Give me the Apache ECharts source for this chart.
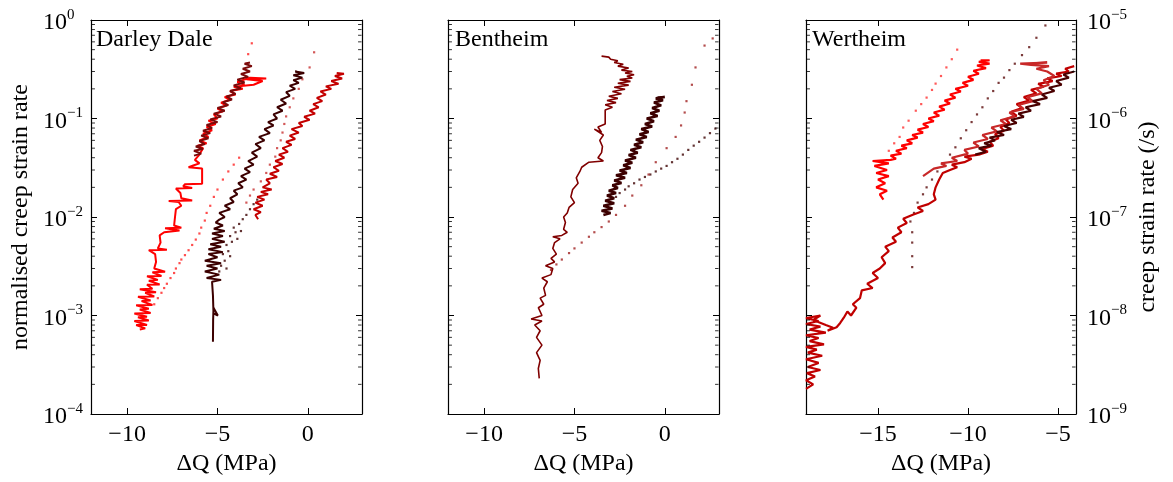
<!DOCTYPE html>
<html><head><meta charset="utf-8">
<script src="https://cdn.jsdelivr.net/npm/echarts@6/dist/echarts.min.js"></script>
<style>html,body{margin:0;padding:0;background:#fff}#c{width:1173px;height:482px}</style>
</head><body><div id="c"></div>
<script>
// ---------- DATA ----------
const panelTitles = ['Darley Dale', 'Bentheim', 'Wertheim'];
const xRanges = [[-12, 3], [-12, 3], [-19, -4]];
const xTickValues = [[-10, -5, 0], [-10, -5, 0], [-15, -10, -5]];
const yLeftRange = [1e-4, 1];
const yRightRange3 = [1e-9, 1e-5];
const xName = 'ΔQ (MPa)';
const yLeftName = 'normalised creep strain rate';
const yRightName = 'creep strain rate (/s)';

// Darley Dale
const ddRed = [[-9.3,7.2e-4],[-9.0,7.4e-4],[-9.5,8.0e-4],[-8.9,8.0e-4],[-9.6,8.8e-4],[-8.8,8.9e-4],[-9.4,9.6e-4],[-8.9,9.7e-4],[-9.6,1.05e-3],[-8.7,1.06e-3],[-9.3,1.15e-3],[-8.8,1.17e-3],[-9.5,1.27e-3],[-8.6,1.28e-3],[-9.2,1.4e-3],[-8.7,1.42e-3],[-9.4,1.55e-3],[-8.5,1.56e-3],[-9.0,1.7e-3],[-8.4,1.72e-3],[-9.3,1.85e-3],[-8.6,1.87e-3],[-8.9,2.05e-3],[-8.2,2.07e-3],[-8.8,2.25e-3],[-8.3,2.3e-3],[-8.9,2.5e-3],[-8.1,2.52e-3],[-8.6,2.75e-3],[-7.9,2.78e-3],[-8.5,3.0e-3],[-8.4,3.5e-3],[-8.45,4.2e-3],[-8.8,4.6e-3],[-7.8,4.65e-3],[-8.3,4.8e-3],[-8.15,5.5e-3],[-8.2,6.5e-3],[-7.95,7.0e-3],[-7.1,7.3e-3],[-7.9,7.7e-3],[-7.0,7.8e-3],[-7.4,8.2e-3],[-7.35,1.0e-2],[-7.3,1.2e-2],[-7.0,1.3e-2],[-7.15,1.42e-2],[-7.7,1.45e-2],[-6.4,1.47e-2],[-7.0,1.55e-2],[-7.05,1.75e-2],[-7.3,1.95e-2],[-6.4,1.97e-2],[-6.9,2.05e-2],[-6.8,2.15e-2],[-5.85,2.17e-2],[-5.85,2.6e-2],[-5.85,3.1e-2],[-6.6,3.2e-2],[-6.3,3.35e-2],[-6.0,3.5e-2],[-6.25,3.8e-2],[-6.0,4.3e-2],[-5.8,5.0e-2],[-6.1,5.3e-2],[-5.6,5.6e-2],[-6.0,6.0e-2],[-5.5,6.5e-2],[-5.8,7.0e-2],[-5.3,7.6e-2],[-5.6,8.2e-2],[-5.1,8.8e-2],[-5.5,9.5e-2],[-5.0,0.1],[-5.2,0.11],[-4.7,0.118],[-5.0,0.126],[-4.5,0.135],[-4.8,0.145],[-4.3,0.155],[-4.6,0.165],[-4.0,0.175],[-4.3,0.19],[-3.6,0.2],[-4.1,0.21],[-3.0,0.22],[-2.5,0.24],[-3.4,0.25],[-2.3,0.255],[-3.2,0.26],[-3.9,0.235],[-3.5,0.22]];
const ddMaroon = [[-6.3,4.2e-2],[-5.9,4.4e-2],[-6.3,4.7e-2],[-5.8,4.9e-2],[-6.2,5.2e-2],[-5.7,5.5e-2],[-6.0,5.9e-2],[-5.5,6.3e-2],[-5.9,6.7e-2],[-5.4,7.1e-2],[-5.8,7.5e-2],[-5.3,8.0e-2],[-5.6,8.6e-2],[-5.0,9.2e-2],[-5.4,9.8e-2],[-4.8,0.105],[-5.2,0.112],[-4.6,0.12],[-5.0,0.128],[-4.4,0.137],[-4.7,0.146],[-4.2,0.156],[-4.5,0.167],[-4.0,0.178],[-4.3,0.19],[-3.7,0.203],[-4.1,0.217],[-3.5,0.232],[-3.9,0.248],[-3.3,0.265],[-3.7,0.283],[-3.2,0.3],[-3.6,0.32],[-3.1,0.34],[-3.5,0.36],[-3.2,0.37]];
const ddDark = [[-5.25,5.4e-4],[-5.24,9e-4],[-5.22,1.2e-3],[-4.98,1.0e-3],[-5.22,1.05e-3],[-5.25,1.6e-3],[-5.3,2.2e-3],[-4.8,2.3e-3],[-5.6,2.4e-3],[-4.9,2.6e-3],[-5.7,2.8e-3],[-5.0,3.0e-3],[-5.6,3.2e-3],[-4.8,3.4e-3],[-5.7,3.6e-3],[-5.0,3.9e-3],[-5.5,4.2e-3],[-4.7,4.4e-3],[-5.5,4.7e-3],[-4.8,5.0e-3],[-5.4,5.3e-3],[-4.6,5.6e-3],[-5.3,6.0e-3],[-4.7,6.4e-3],[-5.3,6.8e-3],[-4.6,7.2e-3],[-5.2,7.6e-3],[-4.7,8.2e-3],[-5.1,8.8e-3],[-4.9,9.4e-3],[-4.6,1.0e-2],[-4.9,1.1e-2],[-4.3,1.2e-2],[-4.6,1.3e-2],[-4.1,1.42e-2],[-4.3,1.55e-2],[-3.9,1.7e-2],[-4.1,1.85e-2],[-3.6,2.0e-2],[-3.85,2.2e-2],[-3.4,2.4e-2],[-3.7,2.6e-2],[-3.2,2.85e-2],[-3.5,3.1e-2],[-3.0,3.4e-2],[-3.3,3.7e-2],[-2.8,4.1e-2],[-3.1,4.5e-2],[-2.6,5.0e-2],[-2.9,5.5e-2],[-2.4,6.0e-2],[-2.7,6.5e-2],[-2.1,7.1e-2],[-2.4,7.8e-2],[-1.9,8.5e-2],[-2.2,9.2e-2],[-1.7,0.1],[-1.9,0.11],[-1.4,0.12],[-1.7,0.13],[-1.2,0.142],[-1.5,0.155],[-1.0,0.17],[-1.2,0.185],[-0.7,0.2],[-1.0,0.215],[-0.5,0.23],[-0.8,0.245],[-0.3,0.26],[-0.8,0.275],[-0.2,0.29],[-0.7,0.3],[-0.4,0.29]];
const ddMid = [[-2.75,9.5e-3],[-2.9,1.05e-2],[-2.6,1.12e-2],[-3.0,1.2e-2],[-2.5,1.3e-2],[-2.9,1.4e-2],[-2.4,1.5e-2],[-2.8,1.6e-2],[-2.2,1.7e-2],[-2.6,1.8e-2],[-2.0,1.9e-2],[-2.5,2.0e-2],[-2.1,2.2e-2],[-2.3,2.4e-2],[-1.7,2.55e-2],[-2.1,2.75e-2],[-1.6,2.95e-2],[-1.9,3.2e-2],[-1.4,3.45e-2],[-1.8,3.7e-2],[-1.3,4.0e-2],[-1.6,4.3e-2],[-1.1,4.6e-2],[-1.4,5.0e-2],[-0.9,5.4e-2],[-1.2,5.8e-2],[-0.7,6.2e-2],[-1.0,6.7e-2],[-0.5,7.2e-2],[-0.9,7.8e-2],[-0.3,8.4e-2],[-0.5,9.0e-2],[0.1,9.7e-2],[-0.2,0.104],[0.4,0.112],[0.1,0.12],[0.6,0.13],[0.3,0.14],[0.8,0.15],[0.5,0.162],[1.0,0.175],[0.7,0.188],[1.3,0.2],[1.0,0.212],[1.7,0.225],[1.3,0.24],[1.9,0.255],[1.5,0.27],[2.0,0.285],[1.6,0.29]];
const ddRedDots = [[-8.5,1.3e-3],[-8.3,1.5e-3],[-8.1,1.7e-3],[-7.95,1.9e-3],[-7.8,2.1e-3],[-7.6,2.4e-3],[-7.4,2.7e-3],[-7.3,3.0e-3],[-7.1,3.4e-3],[-7.0,3.7e-3],[-6.8,4.1e-3],[-6.6,4.6e-3],[-6.4,5.2e-3],[-6.2,5.9e-3],[-6.0,6.8e-3],[-5.9,7.8e-3],[-5.7,9.2e-3],[-5.6,1.1e-2],[-5.4,1.3e-2],[-5.2,1.6e-2],[-5.0,1.9e-2],[-4.7,2.4e-2],[-4.4,2.9e-2],[-4.1,3.4e-2],[-3.8,4.0e-2],[-3.1,0.58],[-3.3,0.45],[-3.4,0.36]];
const ddDarkDots = [[-4.8,3.2e-3],[-4.6,3.6e-3],[-4.7,4.2e-3],[-4.4,4.5e-3],[-4.5,5.2e-3],[-4.2,5.6e-3],[-4.3,6.4e-3],[-4.0,7.0e-3],[-4.1,7.8e-3],[-3.8,8.5e-3],[-3.6,9.5e-3],[-3.4,1.05e-2],[-3.2,1.2e-2],[-3.0,1.35e-2],[-2.8,1.5e-2],[-4.9,2.8e-3],[-4.5,3.0e-3],[-4.3,4.0e-3],[-3.9,6.0e-3],[-3.7,7.2e-3]];
const ddMidDots = [[-3.4,1.4e-2],[-3.2,1.65e-2],[-3.0,1.9e-2],[-2.6,2.3e-2],[-2.3,2.8e-2],[-2.1,3.4e-2],[-1.8,4.1e-2],[-1.7,5.0e-2],[-1.5,6.0e-2],[-1.4,7.2e-2],[-1.3,8.8e-2],[-1.2,0.105],[-1.0,0.13],[-0.8,0.16],[-0.5,0.2],[-0.3,0.25],[0.1,0.33],[0.35,0.47]];

// Bentheim
const bhMaroon = [[-3.5,0.43],[-3.1,0.42],[-3.0,0.4],[-2.6,0.385],[-2.8,0.37],[-2.3,0.355],[-2.6,0.34],[-2.0,0.325],[-2.4,0.31],[-1.8,0.3],[-2.2,0.29],[-1.7,0.278],[-2.1,0.268],[-1.8,0.258],[-2.5,0.248],[-1.9,0.238],[-2.6,0.228],[-2.0,0.218],[-2.8,0.208],[-2.2,0.198],[-2.9,0.188],[-2.4,0.178],[-3.1,0.168],[-2.6,0.16],[-3.2,0.152],[-2.7,0.145],[-3.3,0.138],[-2.9,0.13],[-3.3,0.122],[-3.3,0.1],[-3.3,8.8e-2],[-3.7,8.2e-2],[-3.5,7.2e-2],[-3.9,7.8e-2],[-3.4,6.8e-2],[-3.6,6.0e-2],[-3.45,5.2e-2],[-3.5,4.5e-2],[-3.7,4.0e-2],[-3.4,3.7e-2],[-4.2,3.6e-2],[-4.6,3.2e-2],[-4.7,2.9e-2],[-4.9,2.5e-2],[-4.8,2.2e-2],[-5.1,1.9e-2],[-5.2,1.6e-2],[-5.0,1.4e-2],[-5.3,1.25e-2],[-5.4,1.1e-2],[-5.6,1.0e-2],[-5.5,8.8e-3],[-5.6,7.5e-3],[-5.4,7.0e-3],[-5.7,6.5e-3],[-6.2,6.3e-3],[-5.8,6.0e-3],[-6.1,5.5e-3],[-6.2,4.8e-3],[-6.0,4.2e-3],[-6.3,3.8e-3],[-6.1,3.5e-3],[-6.6,3.2e-3],[-6.2,3.0e-3],[-6.3,2.6e-3],[-6.8,2.4e-3],[-6.5,2.2e-3],[-6.7,1.9e-3],[-6.6,1.6e-3],[-6.9,1.5e-3],[-6.7,1.3e-3],[-7.0,1.2e-3],[-6.8,1.0e-3],[-7.4,9.2e-4],[-6.8,8.8e-4],[-7.2,8.0e-4],[-6.9,7.0e-4],[-7.1,6.0e-4],[-6.8,5.0e-4],[-7.1,4.2e-4],[-6.9,3.5e-4],[-7.0,2.9e-4],[-6.95,2.3e-4]];
const bhDark = [[-3.4,1.05e-2],[-3.0,1.1e-2],[-3.5,1.16e-2],[-2.9,1.22e-2],[-3.4,1.3e-2],[-2.8,1.38e-2],[-3.3,1.46e-2],[-2.8,1.55e-2],[-3.2,1.65e-2],[-2.7,1.75e-2],[-3.1,1.85e-2],[-2.6,1.97e-2],[-2.9,2.1e-2],[-2.4,2.22e-2],[-2.8,2.35e-2],[-2.2,2.5e-2],[-2.7,2.65e-2],[-2.1,2.8e-2],[-2.5,2.97e-2],[-1.9,3.15e-2],[-2.3,3.35e-2],[-1.8,3.55e-2],[-2.2,3.75e-2],[-1.6,4.0e-2],[-2.0,4.25e-2],[-1.5,4.5e-2],[-1.9,4.8e-2],[-1.3,5.1e-2],[-1.7,5.4e-2],[-1.2,5.75e-2],[-1.6,6.1e-2],[-1.0,6.5e-2],[-1.4,6.9e-2],[-0.9,7.3e-2],[-1.3,7.8e-2],[-0.7,8.3e-2],[-1.1,8.8e-2],[-0.6,9.4e-2],[-1.0,0.1],[-0.4,0.106],[-0.8,0.113],[-0.3,0.12],[-0.7,0.128],[-0.2,0.136],[-0.6,0.145],[-0.1,0.153],[-0.5,0.16],[0.0,0.165],[-0.4,0.163]];
const bhDarkDots = [[-2.7,1.6e-2],[-2.5,1.75e-2],[-2.2,1.9e-2],[-2.0,2.05e-2],[-1.7,2.2e-2],[-1.4,2.4e-2],[-1.1,2.55e-2],[-0.8,2.7e-2],[-0.5,2.9e-2],[-0.2,3.1e-2],[0.1,3.3e-2],[0.4,3.6e-2],[0.7,3.9e-2],[1.0,4.3e-2],[1.3,4.8e-2],[1.6,5.3e-2],[1.9,5.8e-2],[2.2,6.4e-2],[2.5,7.1e-2],[2.8,7.9e-2]];
const bhMaroonDots = [[-6.3,2.9e-3],[-6.0,3.3e-3],[-5.7,3.7e-3],[-5.3,4.3e-3],[-5.0,4.8e-3],[-4.6,5.5e-3],[-4.2,6.3e-3],[-3.9,7.0e-3],[-3.5,7.9e-3],[-3.1,9.0e-3],[-2.7,1.05e-2],[-2.2,1.3e-2],[-1.8,1.65e-2],[-1.3,2.1e-2],[-0.9,2.7e-2],[-0.5,3.6e-2],[0.1,5.0e-2],[0.6,6.5e-2],[0.9,8.5e-2],[1.1,0.115],[1.2,0.15],[1.5,0.22],[1.7,0.33],[2.2,0.55],[2.65,0.65]];

// Wertheim (creep strain rate, /s)
const whRed = [[-14.7,1.5e-7],[-14.9,1.7e-7],[-14.5,1.85e-7],[-15.1,2.0e-7],[-14.6,2.2e-7],[-15.0,2.4e-7],[-14.4,2.6e-7],[-15.1,2.8e-7],[-14.5,3.0e-7],[-15.2,3.3e-7],[-14.4,3.5e-7],[-15.3,3.7e-7],[-14.3,3.8e-7],[-14.0,3.9e-7],[-14.3,4.2e-7],[-13.7,4.4e-7],[-14.0,4.7e-7],[-13.4,5.0e-7],[-13.7,5.3e-7],[-13.1,5.6e-7],[-13.4,6.0e-7],[-12.8,6.4e-7],[-13.1,6.8e-7],[-12.5,7.2e-7],[-12.8,7.7e-7],[-12.2,8.2e-7],[-12.5,8.8e-7],[-11.9,9.4e-7],[-12.2,1.0e-6],[-11.6,1.07e-6],[-11.9,1.15e-6],[-11.3,1.23e-6],[-11.6,1.32e-6],[-11.0,1.42e-6],[-11.3,1.52e-6],[-10.7,1.63e-6],[-11.0,1.75e-6],[-10.4,1.88e-6],[-10.7,2.0e-6],[-10.0,2.15e-6],[-10.3,2.3e-6],[-9.7,2.47e-6],[-10.0,2.65e-6],[-9.4,2.85e-6],[-9.7,3.05e-6],[-9.0,3.25e-6],[-9.5,3.45e-6],[-8.8,3.6e-6],[-9.4,3.75e-6],[-8.8,3.9e-6],[-9.3,3.9e-6]];
const whRedDots = [[-14.4,4.7e-7],[-14.1,5.6e-7],[-13.8,6.5e-7],[-13.6,8.1e-7],[-13.3,9.5e-7],[-12.9,1.2e-6],[-12.6,1.4e-6],[-12.3,1.63e-6],[-12.0,1.95e-6],[-11.8,2.26e-6],[-11.5,2.7e-6],[-11.2,3.3e-6],[-10.9,4.0e-6],[-10.6,5.0e-6]];
const whMid = [[-19,1.8e-9],[-18.6,2.0e-9],[-19,2.2e-9],[-18.5,2.4e-9],[-18.95,2.6e-9],[-18.2,2.8e-9],[-18.9,3.0e-9],[-18.3,3.3e-9],[-19,3.6e-9],[-18.1,3.9e-9],[-18.9,4.2e-9],[-18.4,4.5e-9],[-19,4.8e-9],[-18.0,5.1e-9],[-18.8,5.5e-9],[-18.3,5.9e-9],[-19,6.3e-9],[-17.9,6.7e-9],[-18.8,7.2e-9],[-18.2,7.7e-9],[-19,8.2e-9],[-18.3,8.8e-9],[-19,9.4e-9],[-18.2,1.0e-8],[-18.6,9.0e-9],[-17.9,8.0e-9],[-17.5,7.5e-9],[-17.8,7.0e-9],[-17.3,7.6e-9],[-17.1,8.4e-9],[-16.9,9.5e-9],[-16.7,1.1e-8],[-16.5,1.0e-8],[-16.2,1.2e-8],[-16.4,1.3e-8],[-16.0,1.5e-8],[-15.9,1.8e-8],[-15.3,1.9e-8],[-15.6,2.1e-8],[-15.0,2.4e-8],[-15.3,2.7e-8],[-14.9,3.0e-8],[-14.6,3.4e-8],[-14.8,3.9e-8],[-14.4,4.5e-8],[-14.6,5.0e-8],[-14.0,5.6e-8],[-14.2,6.2e-8],[-13.7,7.0e-8],[-13.9,7.8e-8],[-13.4,8.7e-8],[-13.6,9.6e-8],[-13.1,1.05e-7],[-12.5,1.15e-7],[-12.8,1.25e-7],[-12.2,1.35e-7],[-11.8,1.5e-7],[-11.9,1.7e-7],[-11.8,2.0e-7],[-11.6,2.4e-7],[-11.4,2.8e-7],[-11.0,3.0e-7],[-10.6,3.2e-7],[-10.9,3.4e-7],[-10.2,3.6e-7],[-9.8,3.9e-7],[-10.2,4.1e-7],[-9.4,4.3e-7],[-8.9,4.6e-7],[-9.2,4.9e-7],[-8.6,5.3e-7],[-8.8,5.8e-7],[-8.3,6.3e-7],[-8.5,6.9e-7],[-8.0,7.5e-7],[-8.2,8.2e-7],[-7.7,9.0e-7],[-7.9,9.8e-7],[-7.3,1.07e-6],[-7.6,1.17e-6],[-7.0,1.28e-6],[-7.3,1.4e-6],[-6.6,1.52e-6],[-6.9,1.65e-6],[-6.2,1.8e-6],[-6.5,1.95e-6],[-5.8,2.1e-6],[-6.1,2.25e-6],[-5.3,2.4e-6],[-5.6,2.55e-6],[-4.8,2.7e-6],[-5.1,2.85e-6],[-4.4,3.0e-6],[-4.6,3.2e-6],[-4.1,3.4e-6]];
const whLight = [[-12.5,2.6e-7],[-11.9,3.1e-7],[-11.2,3.3e-7],[-11.5,3.5e-7],[-10.6,3.7e-7],[-10.9,4.0e-7],[-10.0,4.4e-7],[-10.2,4.8e-7],[-9.4,5.2e-7],[-9.7,5.7e-7],[-8.9,6.2e-7],[-9.2,6.8e-7],[-8.4,7.4e-7],[-8.7,8.1e-7],[-7.9,8.8e-7],[-8.2,9.6e-7],[-7.4,1.05e-6],[-7.7,1.15e-6],[-6.9,1.25e-6],[-7.2,1.37e-6],[-6.4,1.5e-6],[-6.7,1.65e-6],[-5.9,1.8e-6],[-6.2,2.0e-6],[-5.5,2.2e-6],[-5.8,2.45e-6],[-5.2,2.7e-6],[-5.6,3.0e-6],[-6.2,3.2e-6],[-5.5,3.4e-6],[-6.5,3.5e-6],[-7.1,3.6e-6],[-5.6,3.7e-6],[-6.8,3.6e-6]];
const whDark = [[-9.6,4.3e-7],[-9.0,4.6e-7],[-9.4,5.0e-7],[-8.7,5.3e-7],[-9.1,5.6e-7],[-8.5,6.0e-7],[-8.8,6.4e-7],[-8.0,6.8e-7],[-8.4,7.3e-7],[-7.6,7.8e-7],[-8.0,8.4e-7],[-7.3,9.0e-7],[-7.6,9.7e-7],[-6.9,1.04e-6],[-7.2,1.12e-6],[-6.5,1.2e-6],[-6.8,1.3e-6],[-6.0,1.4e-6],[-6.4,1.5e-6],[-5.6,1.62e-6],[-5.9,1.75e-6],[-5.2,1.9e-6],[-5.5,2.05e-6],[-4.8,2.2e-6],[-5.1,2.4e-6],[-4.4,2.6e-6],[-4.7,2.8e-6],[-4.1,3.0e-6]];
const whDarkDots = [[-13.1,3.1e-8],[-13.1,4e-8],[-13.1,5.5e-8],[-13.1,7e-8],[-13.2,9e-8],[-13.0,1.1e-7],[-12.8,1.4e-7],[-12.5,1.7e-7],[-12.3,2.0e-7],[-12.0,2.4e-7],[-11.7,2.9e-7],[-11.4,3.5e-7],[-11.0,4.3e-7],[-10.7,5.1e-7],[-10.4,6.3e-7],[-10.1,7.6e-7],[-9.8,9.2e-7],[-9.5,1.1e-6],[-9.2,1.3e-6],[-8.9,1.6e-6],[-8.6,1.9e-6],[-8.3,2.3e-6],[-8.0,2.6e-6],[-7.7,3.1e-6],[-7.4,3.6e-6],[-7.0,4.4e-6],[-6.6,5.3e-6],[-6.2,6.6e-6],[-5.7,8.8e-6]];

// ---------- CHART ----------
const FONT = 'Liberation Serif';
const grids = [
  {left: 91, top: 20, width: 271, height: 394},
  {left: 448, top: 20, width: 271, height: 394},
  {left: 806, top: 20, width: 270, height: 394}
];
const minus = s => String(s).replace('-', '\u2212');
const logFmt = v => {
  const e = Math.round(Math.log10(v));
  return '{b|10}{s|' + minus(e) + '}';
};
const rich = {
  b: {fontFamily: FONT, fontSize: 24, color: '#000', lineHeight: 22, padding: [6, 0, 0, 0]},
  s: {fontFamily: FONT, fontSize: 15, color: '#000', lineHeight: 14, padding: [2, 0, 12, 0]}
};
const lineAx = {show: true, lineStyle: {color: '#000', width: 1.2}};

const xAxis = [], yAxis = [];
for (let i = 0; i < 3; i++) {
  xAxis.push({
    type: 'value', gridIndex: i, position: 'bottom', min: xRanges[i][0], max: xRanges[i][1],
    axisLine: Object.assign({onZero: false}, lineAx),
    axisTick: {inside: true, length: 6, lineStyle: {color: '#000'}, customValues: xTickValues[i]},
    axisLabel: {customValues: xTickValues[i], formatter: v => minus(v), fontFamily: FONT, fontSize: 24, color: '#000', margin: 9},
    splitLine: {show: false},
    name: xName, nameLocation: 'middle', nameGap: 36,
    nameTextStyle: {fontFamily: FONT, fontSize: 24, color: '#000'}
  });
  xAxis.push({
    type: 'value', gridIndex: i, position: 'top', min: xRanges[i][0], max: xRanges[i][1],
    axisLine: Object.assign({onZero: false}, lineAx),
    axisTick: {inside: true, length: 6, lineStyle: {color: '#000'}, customValues: xTickValues[i]},
    axisLabel: {show: false}, splitLine: {show: false}
  });
  yAxis.push({
    type: 'log', logBase: 10, gridIndex: i, position: 'left', min: yLeftRange[0], max: yLeftRange[1],
    axisLine: Object.assign({onZero: false}, lineAx),
    axisTick: {inside: true, length: 6, lineStyle: {color: '#000'}},
    axisLabel: {show: i === 0, formatter: logFmt, rich: rich, align: 'left', margin: 48},
    splitLine: {show: false},
    name: i === 0 ? yLeftName : '', nameLocation: 'middle', nameGap: 58,
    nameTextStyle: {fontFamily: FONT, fontSize: 24, color: '#000'}
  });
  yAxis.push({
    type: 'log', logBase: 10, gridIndex: i, position: 'right',
    min: i === 2 ? yRightRange3[0] : yLeftRange[0], max: i === 2 ? yRightRange3[1] : yLeftRange[1],
    axisLine: Object.assign({onZero: false}, lineAx),
    axisTick: {inside: true, length: 6, lineStyle: {color: '#000'}},
    axisLabel: {show: i === 2, formatter: logFmt, rich: rich, align: 'left', margin: 11},
    splitLine: {show: false},
    name: i === 2 ? yRightName : '', nameLocation: 'middle', nameGap: 60, nameRotate: 90,
    nameTextStyle: {fontFamily: FONT, fontSize: 24, color: '#000'}
  });
}

// log minor tick positions (2..9 in each decade)
const minorVals = [];
for (let d = -4; d < 0; d++) for (let m = 2; m <= 9; m++) minorVals.push(m * Math.pow(10, d));

const series = [];
function line(p, yIdx, data, color, w) {
  series.push({type: 'line', xAxisIndex: p * 2, yAxisIndex: yIdx, data: data, symbol: 'none',
    lineStyle: {color: color, width: w || 2, join: 'bevel'}, silent: true, animation: false, z: 3});
}
function dots(p, yIdx, data, color) {
  series.push({type: 'scatter', xAxisIndex: p * 2, yAxisIndex: yIdx, data: data, symbol: 'rect',
    symbolSize: 2.2, itemStyle: {color: color}, silent: true, animation: false, z: 2});
}
// Darley Dale
dots(0, 0, ddRedDots, '#ff2020');
dots(0, 0, ddDarkDots, '#3c0000');
dots(0, 0, ddMidDots, '#c83030');
line(0, 0, ddRed, '#ff0000');
line(0, 0, ddMaroon, '#7a0a0a');
line(0, 0, ddDark, '#3c0000');
line(0, 0, ddMid, '#c40000');
// Bentheim
dots(1, 2, bhDarkDots, '#3c0000');
dots(1, 2, bhMaroonDots, '#a02020');
line(1, 2, bhMaroon, '#800000', 1.6);
line(1, 2, bhDark, '#3c0000', 2.6);
// Wertheim
dots(2, 5, whRedDots, '#ff3030');
dots(2, 5, whDarkDots, '#5a0a0a');
line(2, 5, whMid, '#c00000', 2.2);
line(2, 5, whLight, '#c82828', 2.2);
line(2, 5, whDark, '#4a0000', 2.2);
line(2, 5, whRed, '#ff0000', 2.2);

// minor ticks on left and right frame edges, placed through each panel's own axes
for (let i = 0; i < 3; i++) {
  const xr = xRanges[i];
  const base = {type: 'scatter', xAxisIndex: i * 2, yAxisIndex: i * 2, symbol: 'rect', symbolSize: [3.5, 1],
    itemStyle: {color: '#000'}, silent: true, animation: false, clip: false, z: 5};
  series.push(Object.assign({}, base, {data: minorVals.map(v => [xr[0], v]), symbolOffset: [2.2, 0]}));
  series.push(Object.assign({}, base, {data: minorVals.map(v => [xr[1], v]), symbolOffset: [-2.2, 0]}));
}

const titleLefts = [96, 455, 812];
const title = panelTitles.map((t, i) => ({
  text: t, left: titleLefts[i], top: 28, padding: 0,
  textStyle: {fontFamily: FONT, fontSize: 24, fontWeight: 'normal', color: '#000'}
}));

const chart = echarts.init(document.getElementById('c'), null, {renderer: 'canvas'});
chart.setOption({
  animation: false, backgroundColor: '#fff',
  title: title, grid: grids, xAxis: xAxis, yAxis: yAxis, series: series
});
</script></body></html>
